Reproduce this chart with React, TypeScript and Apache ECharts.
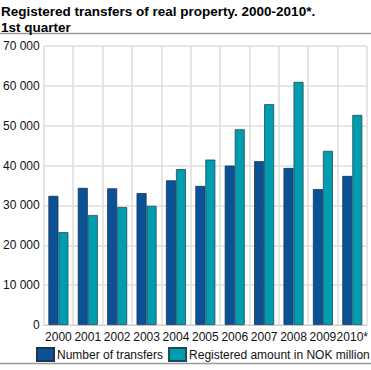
import React, { useEffect, useRef } from "react";
import * as echarts from "echarts";

const categories = ["2000", "2001", "2002", "2003", "2004", "2005", "2006", "2007", "2008", "2009", "2010*"];
const transfers = [32400, 34400, 34300, 33100, 36300, 34900, 40000, 41100, 39400, 34100, 37400];
const amountNOK = [23300, 27600, 29600, 29900, 39100, 41500, 49100, 55400, 61000, 43700, 52700];
const seriesNames = ["Number of transfers", "Registered amount in NOK million"];
const titleLines = ["Registered transfers of real property. 2000-2010*.", "1st quarter"];

const fmt = (v: number) => {
  const s = String(Math.round(v));
  return s.replace(/\B(?=(\d{3})+(?!\d))/g, " ");
};

export default function App() {
  const ref = useRef<HTMLDivElement>(null);
  useEffect(() => {
    if (!ref.current) return;
    const chart = echarts.init(ref.current, null, { renderer: "svg" });
    const font = "'Liberation Sans', Arial, sans-serif";
    chart.setOption({
      animation: false,
      textStyle: { fontFamily: font },
      title: {
        text: titleLines.join("\n"),
        left: -4,
        top: -2,
        textStyle: {
          fontFamily: font,
          fontWeight: "bold",
          fontSize: 13.5,
          lineHeight: 16,
          color: "#000",
        },
      },
      graphic: [
        {
          type: "line",
          shape: { x1: 0, y1: 33.5, x2: 371, y2: 33.5 },
          style: { stroke: "#9a9a9a", lineWidth: 1.5 },
        },
        {
          type: "line",
          shape: { x1: 0, y1: 363.5, x2: 371, y2: 363.5 },
          style: { stroke: "#9a9a9a", lineWidth: 1.5 },
        },
      ],
      legend: {
        left: 36,
        top: 347,
        width: 340,
        padding: 0,
        itemWidth: 17,
        itemHeight: 13,
        itemGap: 5,
        icon: "rect",
        textStyle: { fontSize: 12, color: "#111", fontFamily: font, padding: [0, 0, 0, -2] },
        data: seriesNames,
      },
      grid: { left: 41, right: 4, top: 46, bottom: 45 },
      xAxis: {
        type: "category",
        data: categories,
        axisLine: { show: true, lineStyle: { color: "#cfcfcf" } },
        axisTick: { show: false },
        axisLabel: { color: "#111", fontSize: 12, margin: 6, interval: 0, fontFamily: font },
        splitLine: { show: true, lineStyle: { color: "#dedede", width: 1.5 } },
      },
      yAxis: {
        type: "value",
        min: 0,
        max: 70000,
        interval: 10000,
        axisLine: { show: false },
        axisTick: { show: false },
        axisLabel: { color: "#111", fontSize: 12, margin: 4, formatter: fmt, fontFamily: font },
        splitLine: { lineStyle: { color: "#dedede", width: 1.5 } },
      },
      series: [
        {
          name: seriesNames[0],
          type: "bar",
          data: transfers,
          barWidth: 10,
          barGap: "0%",
          itemStyle: { color: "#0b5198", borderColor: "#1c3550", borderWidth: 0.8 },
        },
        {
          name: seriesNames[1],
          type: "bar",
          data: amountNOK,
          barWidth: 10,
          itemStyle: { color: "#009db0", borderColor: "#1f4a55", borderWidth: 0.8 },
        },
      ],
    });
    return () => chart.dispose();
  }, []);
  return (
    <div
      ref={ref}
      style={{ position: "fixed", left: 0, top: 0, width: 371, height: 370, background: "#fff" }}
    />
  );
}
